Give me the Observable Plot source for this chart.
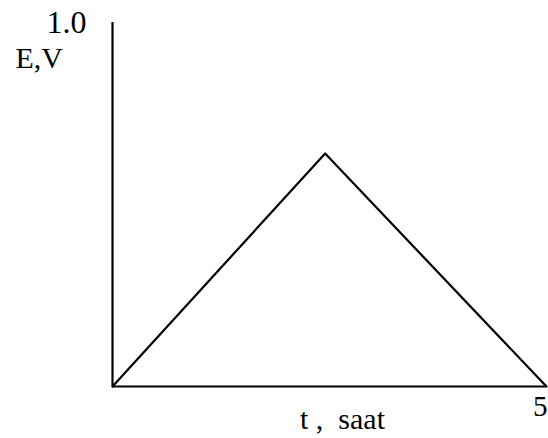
<!DOCTYPE html>
<html><head><meta charset="utf-8">
<script src="https://cdn.jsdelivr.net/npm/d3@7"></script>
<script src="https://cdn.jsdelivr.net/npm/@observablehq/plot@0.6"></script>
<style>body{margin:0;background:#fff} svg text{font-family:"Liberation Serif",serif !important}</style>
</head><body><div id="chart"></div>
<script>
const tHours = [0, 2.45, 5];
const eVolts = [0, 0.64, 0];
const yTicks = [1];
const yTickLabels = ["1.0"];
const xTicks = [5];
const xTickLabels = ["5"];
const yLabel = "E,V";
const xLabel = "t ,  saat";

const data = tHours.map((t, i) => ({t, e: eVolts[i]}));
const F = "Liberation Serif";

const chart = Plot.plot({
  width: 548, height: 438,
  marginLeft: 112, marginRight: 2, marginTop: 22, marginBottom: 52,
  style: "font-family: 'Liberation Serif', serif; font-size: 22px; color: #000; background: #fff;",
  x: {domain: [0, 5], axis: null},
  y: {domain: [0, 1], axis: null},
  marks: [
    Plot.ruleX([0], {y1: 0, y2: 1, stroke: "#000", strokeWidth: 2.2}),
    Plot.ruleY([0], {x1: 0, x2: 5, stroke: "#000", strokeWidth: 2.2}),
    Plot.line(data, {x: "t", y: "e", stroke: "#000", strokeWidth: 2.2}),
    Plot.text(yTicks, {y: d => d, text: (d, i) => yTickLabels[i], frameAnchor: "left", lineAnchor: "middle", textAnchor: "end", dx: -26, fontSize: 32, fontFamily: F}),
    Plot.text(xTicks, {x: d => d, text: (d, i) => xTickLabels[i], frameAnchor: "bottom", lineAnchor: "middle", textAnchor: "end", dx: 1, dy: 20, fontSize: 29, fontFamily: F}),
    Plot.text([yLabel], {text: d => d, frameAnchor: "top-left", lineAnchor: "middle", dx: -97, dy: 36, textAnchor: "start", fontSize: 30, fontFamily: F}),
    Plot.text([xLabel], {text: d => d, frameAnchor: "bottom", lineAnchor: "middle", dx: 13, dy: 33, fontSize: 30, fontFamily: F})
  ]
});
document.getElementById("chart").appendChild(chart);
</script>
</body></html>
